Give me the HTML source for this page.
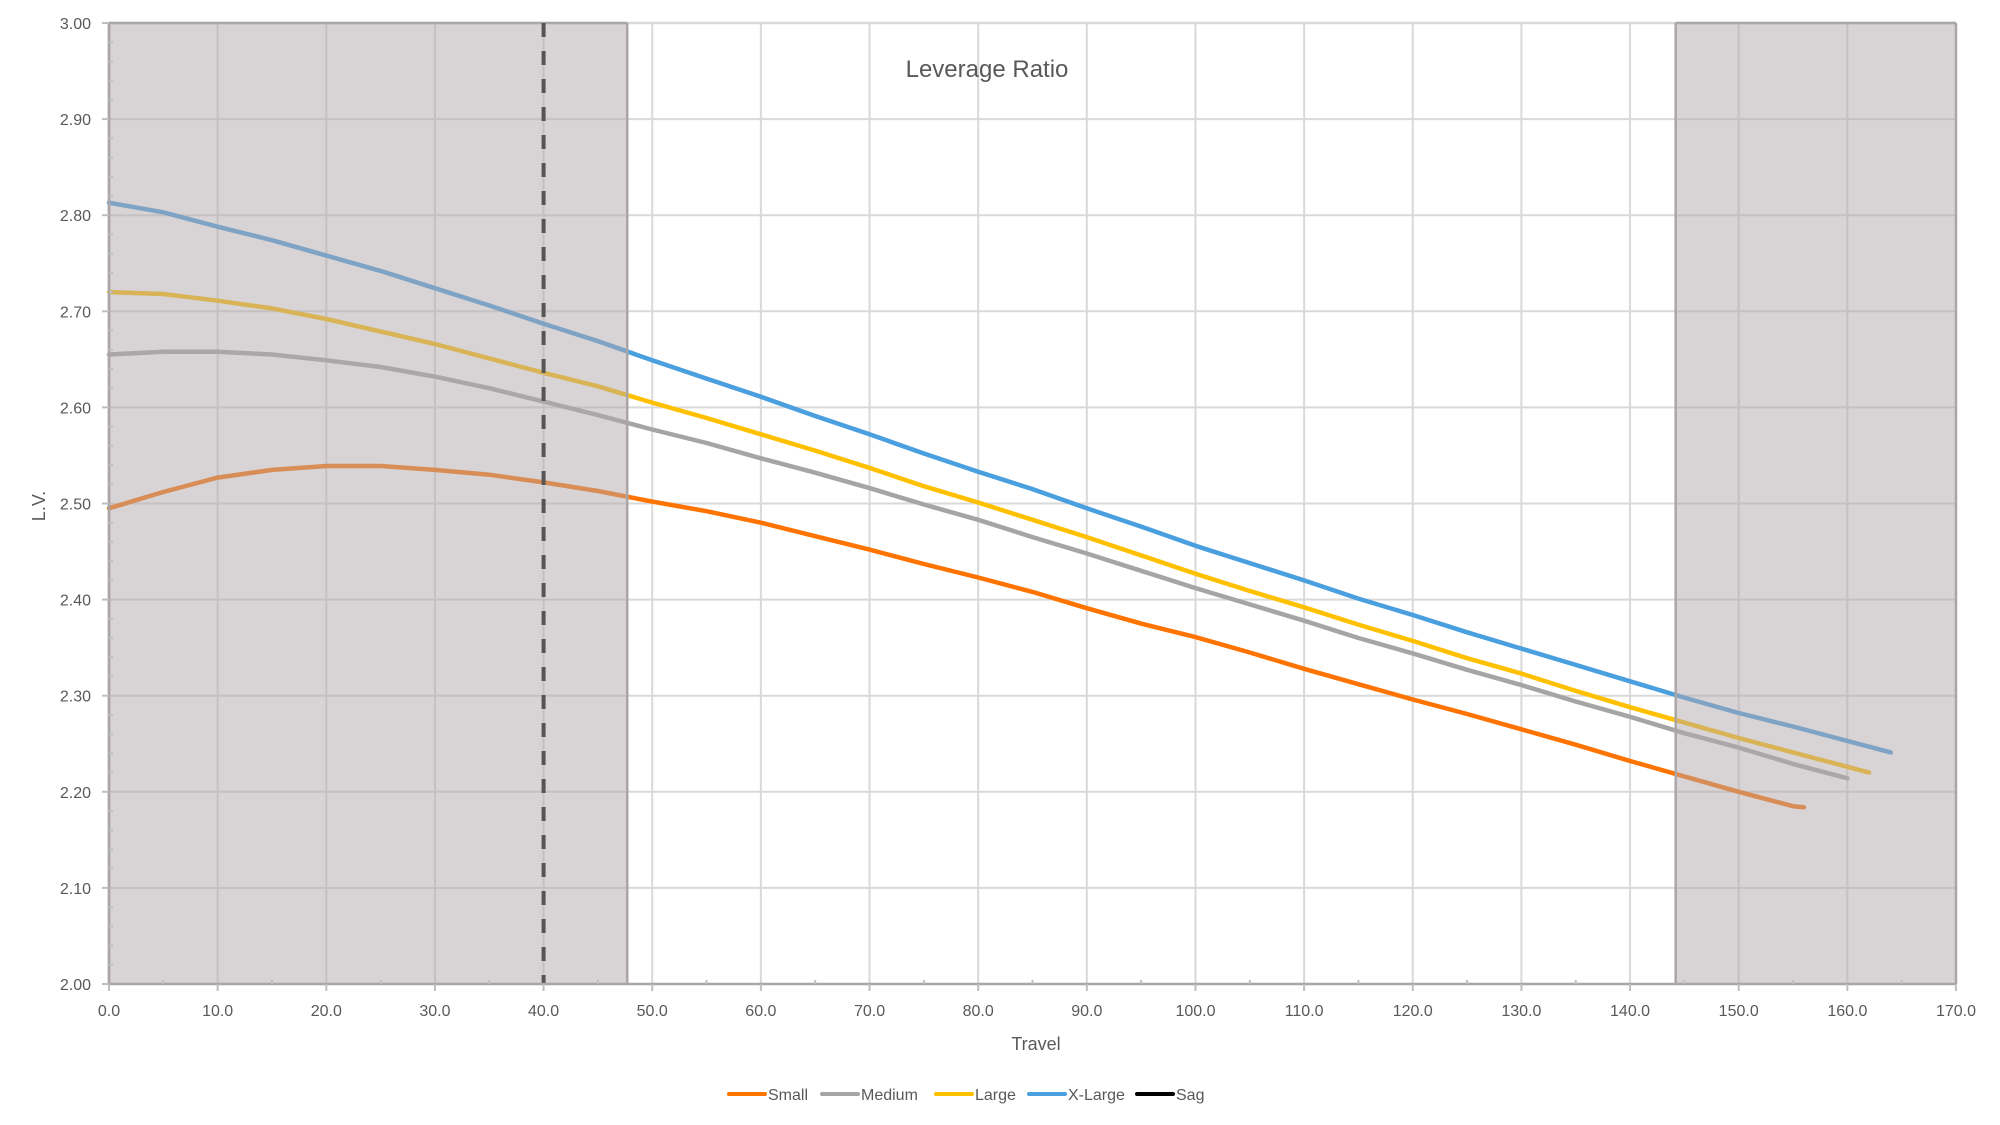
<!DOCTYPE html>
<html><head><meta charset="utf-8"><style>
html,body{margin:0;padding:0;background:#fff;}
svg{display:block;font-family:"Liberation Sans",sans-serif;}
</style></head><body>
<svg id="c" width="2000" height="1125" viewBox="0 0 2000 1125" xmlns="http://www.w3.org/2000/svg"></svg>
<script>
const X0=109,X1=1956,Y0=23,Y1=984;
const sx=v=>X0+(X1-X0)*v/170, sy=v=>Y1-(Y1-Y0)*(v-2);
let s='';
for(let i=1;i<=17;i++){s+=`<line x1="${sx(i*10)}" y1="${Y0}" x2="${sx(i*10)}" y2="${Y1}" stroke="#d9d9d9" stroke-width="2"/>`;}
for(let i=1;i<=10;i++){const y=sy(2+i/10);s+=`<line x1="${X0}" y1="${y}" x2="${X1}" y2="${y}" stroke="#d9d9d9" stroke-width="2"/>`;}
const D={
small:["#ff7300",[[0,2.495],[5,2.512],[10,2.527],[15,2.535],[20,2.539],[25,2.539],[30,2.535],[35,2.530],[40,2.522],[45,2.513],[50,2.502],[55,2.492],[60,2.480],[65,2.466],[70,2.452],[75,2.437],[80,2.423],[85,2.408],[90,2.391],[95,2.375],[100,2.361],[105,2.345],[110,2.328],[115,2.312],[120,2.296],[125,2.281],[130,2.265],[135,2.249],[140,2.232],[145,2.216],[150,2.200],[155,2.185],[156,2.184]]],
med:["#a5a5a5",[[0,2.655],[5,2.658],[10,2.658],[15,2.655],[20,2.649],[25,2.642],[30,2.632],[35,2.620],[40,2.606],[45,2.592],[50,2.577],[55,2.563],[60,2.547],[65,2.532],[70,2.516],[75,2.499],[80,2.483],[85,2.465],[90,2.448],[95,2.430],[100,2.412],[105,2.395],[110,2.378],[115,2.360],[120,2.344],[125,2.327],[130,2.311],[135,2.294],[140,2.278],[145,2.261],[150,2.246],[155,2.229],[160,2.214]]],
large:["#ffc000",[[0,2.720],[5,2.718],[10,2.711],[15,2.703],[20,2.692],[25,2.679],[30,2.666],[35,2.651],[40,2.636],[45,2.622],[50,2.605],[55,2.589],[60,2.572],[65,2.555],[70,2.537],[75,2.518],[80,2.501],[85,2.483],[90,2.465],[95,2.446],[100,2.427],[105,2.409],[110,2.392],[115,2.374],[120,2.357],[125,2.339],[130,2.323],[135,2.305],[140,2.288],[145,2.272],[150,2.256],[155,2.241],[160,2.226],[162,2.220]]],
xl:["#4a9fdf",[[0,2.813],[5,2.803],[10,2.788],[15,2.774],[20,2.758],[25,2.742],[30,2.724],[35,2.706],[40,2.687],[45,2.669],[50,2.649],[55,2.630],[60,2.611],[65,2.591],[70,2.572],[75,2.552],[80,2.533],[85,2.515],[90,2.495],[95,2.476],[100,2.456],[105,2.438],[110,2.420],[115,2.401],[120,2.384],[125,2.366],[130,2.349],[135,2.332],[140,2.315],[145,2.298],[150,2.282],[155,2.268],[160,2.253],[164,2.241]]]};
for(const k in D){const [c,p]=D[k];s+=`<polyline fill="none" stroke="${c}" stroke-width="4.5" stroke-linejoin="round" stroke-linecap="round" points="${p.map(q=>sx(q[0]).toFixed(1)+','+sy(q[1]).toFixed(1)).join(' ')}"/>`;}
const a=sx(47.7),b=sx(144.2);
s+=`<line x1="${X0}" y1="${Y0}" x2="${X1}" y2="${Y0}" stroke="#d9d9d9" stroke-width="2.5"/>`;
s+=`<rect x="${X0}" y="${Y0}" width="${a-X0}" height="${Y1-Y0}" fill="rgb(178,168,171)" opacity="0.5"/>`;
s+=`<rect x="${b}" y="${Y0}" width="${X1-b}" height="${Y1-Y0}" fill="rgb(178,168,171)" opacity="0.5"/>`;
for(const [x1,x2] of [[X0,a],[b,X1]]){
s+=`<line x1="${x1}" y1="${Y0}" x2="${x2}" y2="${Y0}" stroke="#aaa6a7" stroke-width="2.5"/>`;
s+=`<line x1="${x2}" y1="${Y0}" x2="${x2}" y2="${Y1}" stroke="#aaa6a7" stroke-width="2.5"/>`;
s+=`<line x1="${x1}" y1="${Y0}" x2="${x1}" y2="${Y1}" stroke="#aaa6a7" stroke-width="2.5"/>`;}
s+=`<line x1="${sx(40)}" y1="${Y0}" x2="${sx(40)}" y2="${Y1}" stroke="#555" stroke-width="4" stroke-dasharray="14,14"/>`;
s+=`<line x1="${X0}" y1="${Y0}" x2="${X0}" y2="${Y1}" stroke="#aaa6a7" stroke-width="2.5"/>`;
s+=`<line x1="${X0}" y1="${Y1}" x2="${X1}" y2="${Y1}" stroke="#aaa6a7" stroke-width="2.5"/>`;
for(let i=0;i<=50;i++){const y=sy(2+i/50);const maj=i%5==0;s+=`<line x1="${maj?X0-7:X0}" y1="${y}" x2="${X0+(maj?0:4)}" y2="${y}" stroke="#bfbfbf" stroke-width="2"/>`;
 if(maj)s+=`<text x="91" y="${y+6}" text-anchor="end" font-size="16" fill="#595959">${(2+i/50).toFixed(2)}</text>`;}
for(let i=0;i<=34;i++){const x=sx(i*5);const maj=i%2==0;s+=`<line x1="${x}" y1="${maj?Y1+7:Y1-4}" x2="${x}" y2="${Y1}" stroke="#bfbfbf" stroke-width="2"/>`;
 if(maj)s+=`<text x="${x}" y="1016" text-anchor="middle" font-size="16" fill="#595959">${(i*5).toFixed(1)}</text>`;}
s+=`<text x="987" y="77" text-anchor="middle" font-size="24" fill="#595959">Leverage Ratio</text>`;
s+=`<text x="1036" y="1050" text-anchor="middle" font-size="18" fill="#595959">Travel</text>`;
s+=`<text transform="translate(45,506) rotate(-90)" text-anchor="middle" font-size="18" fill="#595959">L.V.</text>`;
const L=[["#ff7300",729,"Small"],["#a5a5a5",822,"Medium"],["#ffc000",936,"Large"],["#4a9fdf",1029,"X-Large"],["#000",1137,"Sag"]];
for(const [c,x,t] of L){s+=`<line x1="${x}" y1="1094" x2="${x+36}" y2="1094" stroke="${c}" stroke-width="4" stroke-linecap="round"/><text x="${x+39}" y="1100" font-size="16" fill="#595959">${t}</text>`;}
document.getElementById('c').innerHTML=s;
</script>
</body></html>
